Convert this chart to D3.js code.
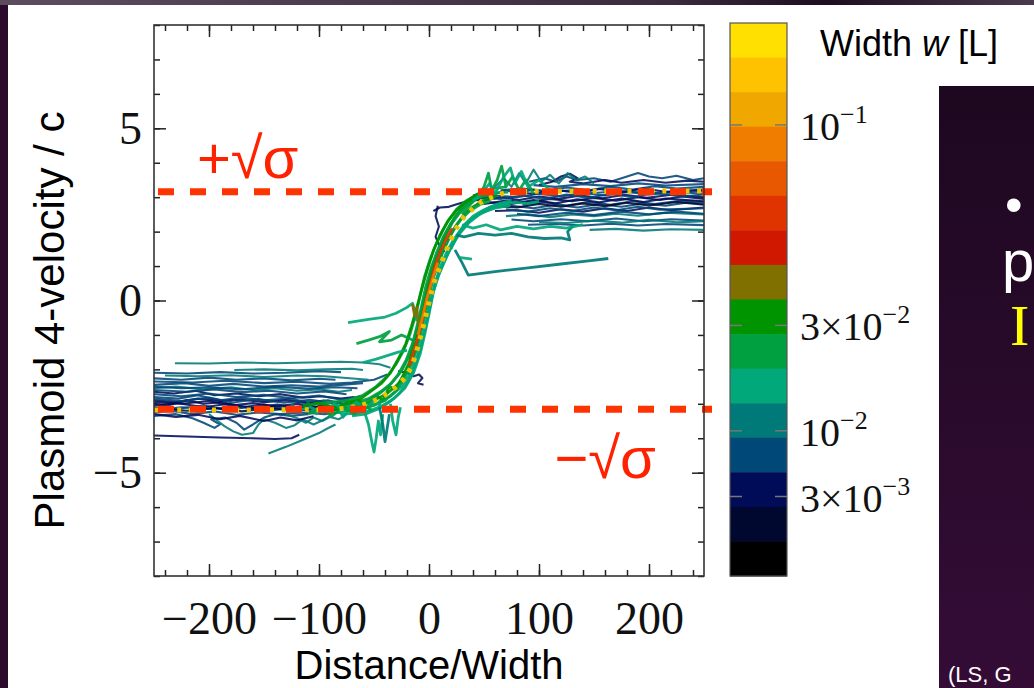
<!DOCTYPE html>
<html><head><meta charset="utf-8">
<script src="https://cdn.jsdelivr.net/npm/d3@7"></script>
<style>body{margin:0;background:#fff;overflow:hidden}</style>
</head><body>
<svg id="chart" width="1034" height="688"></svg>
<script>
// ---------------- DATA ----------------
const xDomain = [-250, 250];
const yDomain = [-8, 8];
const xMajorTicks = [-200, -100, 0, 100, 200];
const yMajorTicks = [-5, 0, 5];
const sqrtSigma = 3.16;

// colour bins of the width colour bar, top (largest w) to bottom
const widthBinColors = ["#FFE000","#FFC200","#F0A800","#F07C00","#E85800","#E03400","#D01800","#807000",
  "#009400","#00A040","#00A87A","#007A78","#004878","#000C58","#000830","#000000"];
const colorbarTickBins = [2.95, 8.75, 11.8, 13.7];
const colorbarTickBase = ["10", "3×10", "10", "3×10"];
const colorbarTickExp = ["−1", "−2", "−2", "−3"];

// plasmoid tracks: w = colour-bin index, pts = [distance/width, 4-velocity]
const leftPlateauTracks = [
 {w:13, pts:[[-250,-2.95],[-225,-3.0],[-200,-2.92],[-180,-3.05],[-160,-2.98],[-140,-3.08],[-120,-3.0],[-100,-3.1],[-85,-3.05],[-70,-3.15]]},
 {w:12, pts:[[-250,-3.1],[-230,-3.15],[-205,-3.05],[-185,-3.18],[-165,-3.1],[-145,-3.2],[-125,-3.12],[-105,-3.22],[-90,-3.15],[-75,-3.2]]},
 {w:12, pts:[[-250,-2.8],[-228,-2.85],[-210,-2.75],[-190,-2.9],[-170,-2.82],[-150,-2.9],[-128,-2.85],[-110,-2.95],[-92,-2.9],[-78,-3.0],[-65,-2.9]]},
 {w:13, pts:[[-250,-2.65],[-232,-2.7],[-212,-2.62],[-195,-2.75],[-175,-2.7],[-155,-2.78],[-135,-2.72],[-115,-2.82],[-98,-2.78],[-80,-2.85],[-68,-2.8]]},
 {w:12, pts:[[-250,-3.25],[-235,-3.2],[-215,-3.3],[-195,-3.22],[-175,-3.32],[-155,-3.25],[-135,-3.3],[-115,-3.25],[-95,-3.3],[-80,-3.25]]},
 {w:11, pts:[[-250,-2.55],[-230,-2.5],[-205,-2.58],[-180,-2.52],[-160,-2.6],[-140,-2.55],[-120,-2.62],[-100,-2.58],[-82,-2.65],[-70,-2.6]]},
 {w:12, pts:[[-250,-2.45],[-222,-2.4],[-200,-2.48],[-178,-2.42],[-150,-2.5],[-125,-2.46],[-100,-2.5],[-80,-2.45],[-60,-2.4]]},
 {w:13, pts:[[-250,-3.0],[-238,-3.05],[-220,-2.9],[-205,-3.0],[-188,-2.95],[-170,-3.1],[-150,-3.02],[-130,-3.12],[-110,-3.05],[-95,-3.15]]},
 {w:12, pts:[[-250,-3.35],[-230,-3.3],[-215,-3.42],[-205,-3.55],[-195,-3.7],[-190,-3.6],[-198,-3.45],[-185,-3.4],[-175,-3.55],[-168,-3.75],[-160,-3.6],[-150,-3.4],[-140,-3.3],[-125,-3.35],[-110,-3.3]]},
 {w:11, pts:[[-200,-3.3],[-192,-3.5],[-186,-3.65],[-178,-3.8],[-170,-3.9],[-160,-3.85],[-155,-3.6],[-150,-3.45],[-140,-3.55],[-130,-3.7],[-122,-3.62],[-115,-3.45],[-105,-3.6],[-98,-3.5],[-90,-3.35]]},
 {w:13, pts:[[-250,-3.92],[-220,-3.95],[-190,-3.98],[-160,-4.0],[-140,-4.02],[-125,-4.0],[-118,-3.9]]},
 {w:11, pts:[[-146,-4.44],[-130,-4.25],[-115,-4.05],[-100,-3.85],[-92,-3.71],[-85,-3.6]]},
 {w:11, pts:[[-231,-1.82],[-200,-1.83],[-170,-1.8],[-140,-1.82],[-110,-1.8],[-80,-1.78],[-60,-1.8],[-45,-1.85],[-35,-1.95]]},
 {w:12, pts:[[-250,-2.1],[-220,-2.12],[-190,-2.08],[-160,-2.12],[-130,-2.1],[-100,-2.05],[-80,-2.08]]},
 {w:11, pts:[[-177,-2.02],[-150,-2.0],[-120,-2.03],[-95,-2.0],[-70,-1.98],[-60,-2.02]]},
 {w:12, pts:[[-250,-2.26],[-225,-2.3],[-200,-2.24],[-175,-2.3],[-150,-2.26],[-125,-2.32],[-100,-2.27],[-85,-2.3]]},
 {w:12, pts:[[-250,-2.35],[-215,-2.38],[-185,-2.33],[-150,-2.4],[-120,-2.36],[-90,-2.42],[-70,-2.38],[-50,-2.3],[-38,-2.15]]},
 {w:13, pts:[[-250,-2.9],[-230,-2.95],[-210,-2.85],[-190,-2.92],[-170,-2.88],[-150,-2.95],[-130,-2.9],[-110,-2.98],[-95,-2.95]]},
 {w:12, pts:[[-250,-3.18],[-225,-3.1],[-200,-3.15],[-175,-3.08],[-150,-3.15],[-125,-3.08],[-100,-3.15],[-85,-3.1]]},
 {w:11, pts:[[-130,-3.3],[-120,-3.42],[-112,-3.55],[-105,-3.4],[-97,-3.5],[-90,-3.38],[-82,-3.45],[-75,-3.3]]},
 {w:10, pts:[[-110,-3.1],[-102,-3.3],[-96,-3.05],[-90,-3.35],[-84,-3.1],[-78,-3.4],[-72,-3.15],[-66,-3.3],[-60,-3.05]]},
 {w:11, pts:[[-125,-3.0],[-118,-3.25],[-110,-2.95],[-104,-3.2],[-96,-2.9],[-90,-3.15],[-82,-2.95],[-75,-3.2],[-68,-3.0]]},
 {w:13, pts:[[-28,-2.05],[-20,-2.1],[-14,-2.2],[-9,-2.15],[-6,-2.25],[-10,-2.4],[-5,-2.45]]},
 {w:12, pts:[[-250,-2.72],[-225,-2.78],[-200,-2.7],[-175,-2.8],[-150,-2.74],[-125,-2.84],[-100,-2.76],[-80,-2.88],[-62,-2.78]]},
 {w:13, pts:[[-250,-3.05],[-228,-2.98],[-205,-3.1],[-182,-3.0],[-160,-3.12],[-138,-3.02],[-115,-3.14],[-95,-3.05],[-78,-3.12]]},
 {w:12, pts:[[-250,-2.85],[-225,-2.92],[-200,-2.82],[-178,-2.96],[-155,-2.86],[-132,-2.97],[-108,-2.88],[-88,-2.98],[-72,-2.9]]},
 {w:14, pts:[[-250,-3.12],[-220,-3.2],[-195,-3.12],[-170,-3.22],[-145,-3.12],[-120,-3.2],[-100,-3.1],[-82,-3.18]]},
 {w:12, pts:[[-250,-2.6],[-220,-2.65],[-195,-2.58],[-170,-2.66],[-145,-2.62],[-120,-2.7],[-95,-2.64],[-75,-2.72]]},
 {w:11, pts:[[-240,-2.18],[-210,-2.2],[-180,-2.17],[-150,-2.22],[-120,-2.18],[-95,-2.2],[-75,-2.25],[-55,-2.3]]},
 {w:13, pts:[[-250,-3.3],[-230,-3.38],[-210,-3.32],[-190,-3.45],[-172,-3.35],[-150,-3.5],[-135,-3.4],[-120,-3.48],[-105,-3.36]]},
 {w:12, pts:[[-250,-2.5],[-225,-2.55],[-200,-2.52],[-170,-2.58],[-140,-2.5],[-110,-2.56],[-85,-2.52],[-65,-2.55]]}
];

const rightPlateauTracks = [
 {w:12, pts:[[45,2.95],[60,3.05],[80,3.0],[100,3.1],[120,3.02],[140,3.12],[160,3.05],[180,3.15],[200,3.08],[225,3.15],[250,3.1]]},
 {w:13, pts:[[50,2.8],[70,2.9],[90,2.85],[110,2.95],[130,2.88],[150,2.98],[170,2.9],[190,3.0],[210,2.92],[230,3.02],[250,2.95]]},
 {w:12, pts:[[55,2.7],[75,2.75],[95,2.68],[115,2.78],[135,2.7],[155,2.8],[175,2.72],[195,2.82],[215,2.75],[235,2.85],[250,2.8]]},
 {w:13, pts:[[60,2.6],[80,2.62],[100,2.55],[120,2.65],[140,2.58],[160,2.68],[180,2.6],[200,2.7],[220,2.62],[250,2.7]]},
 {w:12, pts:[[65,3.2],[85,3.25],[105,3.18],[125,3.28],[145,3.2],[165,3.3],[185,3.22],[205,3.32],[225,3.25],[250,3.3]]},
 {w:11, pts:[[70,2.45],[90,2.5],[110,2.42],[130,2.5],[150,2.45],[170,2.52],[190,2.46],[215,2.55],[250,2.5]]},
 {w:12, pts:[[75,2.35],[95,2.3],[120,2.36],[145,2.3],[170,2.38],[195,2.3],[220,2.36],[250,2.32]]},
 {w:11, pts:[[146,2.05],[170,2.08],[195,2.03],[220,2.07],[250,2.05]]},
 {w:12, pts:[[90,2.2],[115,2.22],[140,2.18],[165,2.23],[190,2.18],[215,2.22],[250,2.19]]},
 {w:12, pts:[[91,3.45],[105,3.55],[115,3.45],[125,3.6],[135,3.5],[150,3.55],[165,3.45],[180,3.6],[190,3.7],[200,3.6],[212,3.55],[225,3.62],[240,3.5],[250,3.55]]},
 {w:13, pts:[[100,3.35],[112,3.45],[120,3.6],[128,3.68],[135,3.55],[128,3.45],[140,3.4],[160,3.5],[175,3.42],[195,3.5],[215,3.42],[235,3.48],[250,3.45]]},
 {w:12, pts:[[40,3.05],[50,3.15],[60,3.1],[70,3.2],[80,3.12],[95,3.22],[110,3.15],[130,3.2],[150,3.12],[175,3.18],[200,3.12],[250,3.18]]},
 {w:13, pts:[[50,2.9],[65,3.0],[82,2.92],[100,3.02],[118,2.95],[138,3.05],[158,2.97],[178,3.07],[198,2.98],[222,3.08],[250,3.0]]},
 {w:12, pts:[[85,2.78],[105,2.85],[125,2.76],[145,2.86],[165,2.78],[185,2.88],[205,2.8],[230,2.9],[250,2.85]]},
 {w:11, pts:[[60,3.3],[68,3.55],[75,3.3],[82,3.7],[88,3.4],[95,3.8],[102,3.45],[110,3.65],[118,3.4],[126,3.7],[134,3.5],[142,3.6],[150,3.4]]},
 {w:13, pts:[[8,2.75],[6,2.45],[9,2.15],[6,1.85],[10,1.55],[14,1.4]]},
 {w:13, pts:[[4,2.6],[10,2.7],[18,2.72],[26,2.8],[36,2.9],[46,2.92]]},
 {w:12, pts:[[45,3.0],[65,2.95],[85,3.05],[105,2.95],[125,3.08],[145,2.98],[165,3.1],[185,3.0],[205,3.12],[230,3.02],[250,3.08]]},
 {w:13, pts:[[55,2.85],[75,2.8],[95,2.92],[115,2.82],[135,2.94],[155,2.85],[175,2.96],[195,2.86],[215,2.96],[250,2.88]]},
 {w:14, pts:[[60,2.75],[80,2.7],[100,2.8],[120,2.72],[140,2.82],[160,2.74],[180,2.84],[200,2.76],[225,2.86],[250,2.78]]},
 {w:12, pts:[[70,2.65],[90,2.58],[110,2.68],[130,2.6],[150,2.7],[170,2.62],[190,2.72],[210,2.64],[250,2.68]]},
 {w:13, pts:[[75,3.15],[95,3.1],[115,3.22],[135,3.12],[155,3.24],[175,3.14],[195,3.25],[215,3.16],[250,3.22]]},
 {w:12, pts:[[80,2.52],[100,2.45],[125,2.55],[150,2.48],[175,2.58],[200,2.5],[225,2.58],[250,2.52]]},
 {w:11, pts:[[100,2.28],[125,2.25],[150,2.32],[175,2.26],[200,2.34],[225,2.27],[250,2.3]]},
 {w:12, pts:[[95,3.35],[115,3.3],[140,3.38],[165,3.32],[190,3.4],[215,3.34],[250,3.38]]}
];

const transitionTracks = [
 {w:9,  pts:[[-95,-3.1],[-80,-3.05],[-68,-2.98],[-55,-2.85],[-44,-2.65],[-34,-2.4],[-25,-2.05],[-18,-1.6],[-13,-1.1],[-9,-0.6],[-5,-0.05],[0,0.6],[5,1.05],[10,1.5],[15,1.9],[21,2.25],[28,2.55],[36,2.8],[46,3.0],[58,3.12],[72,3.15]]},
 {w:8,  pts:[[-90,-3.2],[-75,-3.15],[-62,-3.05],[-50,-2.9],[-38,-2.7],[-28,-2.42],[-20,-2.05],[-14,-1.6],[-10,-1.15],[-6,-0.6],[-2,0.0],[3,0.6],[8,1.0],[13,1.45],[19,1.85],[25,2.2],[32,2.5],[40,2.72],[50,2.92],[62,3.05]]},
 {w:10, pts:[[-85,-3.25],[-70,-3.2],[-58,-3.1],[-46,-2.95],[-35,-2.78],[-25,-2.5],[-17,-2.12],[-11,-1.65],[-6,-1.1],[-2,-0.55],[2,0.05],[7,0.6],[12,1.0],[18,1.42],[24,1.78],[31,2.1],[40,2.4],[50,2.62],[62,2.8],[75,2.9]]},
 {w:9,  pts:[[-105,-3.0],[-88,-2.95],[-74,-2.9],[-60,-2.75],[-48,-2.5],[-38,-2.2],[-30,-1.85],[-23,-1.45],[-17,-0.95],[-12,-0.4],[-8,0.15],[-4,0.7],[1,1.2],[6,1.6],[12,2.0],[18,2.35],[25,2.65],[34,2.9],[45,3.1],[58,3.25],[70,3.3]]},
 {w:10, pts:[[-80,-3.3],[-66,-3.28],[-54,-3.2],[-42,-3.05],[-32,-2.85],[-22,-2.55],[-14,-2.1],[-8,-1.55],[-4,-1.0],[0,-0.4],[4,0.25],[9,0.75],[15,1.2],[21,1.6],[28,1.95],[36,2.25],[46,2.5],[58,2.7],[72,2.82]]},
 {w:8,  pts:[[-75,-3.0],[-64,-2.9],[-56,-3.1],[-48,-2.75],[-42,-2.9],[-36,-2.5],[-30,-2.6],[-24,-2.2],[-18,-1.8],[-14,-1.3],[-10,-0.85],[-6,-0.3],[-2,0.3],[2,0.85],[7,1.3],[12,1.7],[17,2.05],[23,2.4],[30,2.7],[38,2.95],[48,3.15]]},
 {w:9,  pts:[[-60,-3.15],[-50,-3.05],[-40,-2.9],[-31,-2.65],[-23,-2.3],[-16,-1.85],[-11,-1.4],[-7,-0.9],[-3,-0.35],[1,0.25],[5,0.8],[10,1.25],[16,1.7],[22,2.05],[29,2.35],[37,2.6],[46,2.78],[56,2.9]]},
 {w:9,  pts:[[-100,-3.2],[-85,-3.1],[-70,-3.05],[-58,-2.95],[-47,-2.75],[-37,-2.5],[-28,-2.15],[-21,-1.75],[-15,-1.25],[-11,-0.75],[-7,-0.2],[-3,0.4],[2,0.95],[7,1.4],[13,1.85],[20,2.25],[27,2.55],[35,2.8],[45,3.0],[56,3.1]]},
 {w:10, pts:[[-70,-3.35],[-58,-3.3],[-46,-3.15],[-36,-2.95],[-27,-2.7],[-19,-2.35],[-12,-1.85],[-7,-1.3],[-3,-0.75],[1,-0.15],[5,0.45],[10,0.95],[16,1.4],[23,1.8],[30,2.1],[38,2.35],[48,2.55],[60,2.68],[74,2.76]]},
 {w:8,  pts:[[-115,-3.05],[-100,-2.98],[-85,-3.1],[-72,-2.95],[-62,-2.85],[-52,-2.62],[-43,-2.4],[-35,-2.1],[-28,-1.7],[-21,-1.25],[-16,-0.75],[-11,-0.2],[-6,0.4],[-1,0.95],[4,1.45],[10,1.9],[17,2.3],[25,2.62],[33,2.85],[42,3.05],[52,3.2]]},
 {w:10, pts:[[-120,-3.2],[-108,-3.1],[-96,-3.25],[-86,-3.0],[-76,-3.2],[-66,-2.95],[-58,-3.15],[-50,-2.9],[-44,-3.05]]},
 {w:9,  pts:[[-110,-3.3],[-98,-3.15],[-88,-3.35],[-78,-3.1],[-68,-3.3],[-60,-3.0],[-52,-3.2]]},
 {w:10, pts:[[20,1.5],[26,1.9],[32,2.2],[40,2.45],[48,2.6],[56,2.72],[66,2.8],[78,2.85],[90,2.82],[100,2.88]]},
 {w:9,  pts:[[30,2.5],[38,2.8],[44,3.0],[50,3.3],[54,3.7],[57,3.2],[62,3.5],[66,3.9],[70,3.3],[76,3.6],[82,3.2],[88,3.5],[95,3.1]]},
 {w:10, pts:[[40,2.9],[48,3.1],[55,3.4],[60,3.1],[68,3.6],[74,3.85],[78,3.4],[84,3.75],[90,3.3],[100,3.5],[110,3.2]]},
 {w:11, pts:[[25,1.9],[32,1.85],[45,1.95],[60,1.9],[75,1.95],[90,1.85],[105,1.8],[120,1.82],[128,1.76],[126,2.0],[132,2.2]]},
 {w:10, pts:[[30,2.2],[40,2.1],[52,2.2],[65,2.05],[80,2.15],[95,2.08],[110,2.15],[125,2.1],[140,2.2]]},
 {w:11, pts:[[23.6,1.47],[30,1.1],[35.7,0.74],[60,0.84],[90,0.95],[120,1.06],[145,1.15],[163,1.22]]},
 {w:10, pts:[[27,1.25],[34,1.22],[39,1.2]]},
 {w:10, pts:[[-60,-3.1],[-55,-3.6],[-52,-4.1],[-50,-4.4],[-48,-4.0],[-46,-3.5],[-44,-3.9],[-42,-3.3]]},
 {w:11, pts:[[-45,-3.1],[-42,-3.6],[-40,-4.1],[-38,-3.7],[-36,-3.3]]},
 {w:10, pts:[[-35,-3.0],[-33,-3.5],[-30,-3.9],[-28,-3.4],[-26,-3.1]]},
 {w:10, pts:[[-73.6,-0.64],[-55,-0.55],[-40,-0.48],[-30,-0.37],[-20,-0.2],[-15,-0.08],[-13,-0.3],[-11,-0.6]]},
 {w:9,  pts:[[-66,-1.25],[-55,-1.15],[-45,-1.05],[-36,-0.9],[-45,-1.2],[-34,-1.15],[-25,-1.0],[-18,-1.1],[-12,-1.2]]},
 {w:10, pts:[[-60,-1.8],[-48,-1.7],[-38,-1.6],[-28,-1.5],[-20,-1.45]]},
 {w:7,  pts:[[-15,-0.1],[-13,-0.45],[-11,-0.2],[-10,-0.6],[-8,-0.8]]},
 {w:5,  pts:[[-18,-1.9],[-12,-1.3],[-7,-0.7],[-3,-0.1],[1,0.45],[5,0.95],[10,1.4],[15,1.75],[21,2.1]]},
 {w:3,  pts:[[-10,-1.0],[-6,-0.5],[-2,0.05],[3,0.6],[8,1.1]]}
];

// smooth yellow reference curve (dotted)
const referenceCurve = [[-250,-3.18],[-100,-3.17],[-80,-3.14],[-65,-3.07],[-52,-2.94],[-40,-2.74],[-28,-2.45],[-19,-2.1],
 [-12.7,-1.63],[-8,-1.09],[-4,-0.6],[0,-0.05],[5.5,0.6],[10,0.98],[16,1.47],[20.6,1.81],[25,2.1],[31,2.39],[38.8,2.63],
 [47.9,2.87],[58.2,3.01],[69,3.12],[80,3.16],[100,3.17],[250,3.18]];

// ---------------- DRAW ----------------
const svg = d3.select("#chart");
const W = 1034, H = 688;
const x = d3.scaleLinear(xDomain, [154, 704]);
const y = d3.scaleLinear(yDomain, [576, 25]);
const cb = d3.scaleLinear([0, widthBinColors.length], [23, 576]);

const defs = svg.append("defs");
const g1 = defs.append("linearGradient").attr("id","boxg").attr("x1",0).attr("y1",0).attr("x2",0).attr("y2",1);
g1.append("stop").attr("offset","0%").attr("stop-color","#1d0820");
g1.append("stop").attr("offset","100%").attr("stop-color","#340c36");
const g2 = defs.append("linearGradient").attr("id","topg").attr("x1",0).attr("y1",0).attr("x2",1).attr("y2",0);
g2.append("stop").attr("offset","0%").attr("stop-color","#5c4c5e");
g2.append("stop").attr("offset","65%").attr("stop-color","#3a2a3c");
g2.append("stop").attr("offset","80%").attr("stop-color","#1e0c20");
g2.append("stop").attr("offset","100%").attr("stop-color","#4a3a4c");
defs.append("clipPath").attr("id","plotclip").append("rect")
  .attr("x", x(xDomain[0])).attr("y", y(yDomain[1])).attr("width", x(xDomain[1]) - x(xDomain[0])).attr("height", y(yDomain[0]) - y(yDomain[1]));
defs.append("filter").attr("id","soft").append("feGaussianBlur").attr("stdDeviation",0.45);

// slide background
svg.append("rect").attr("width",W).attr("height",H).attr("fill","#fff");
svg.append("rect").attr("x",0).attr("y",0).attr("width",8).attr("height",H).attr("fill","#2b0a2c");
svg.append("rect").attr("x",0).attr("y",0).attr("width",W).attr("height",5).attr("fill","url(#topg)");

// tracks
const line = d3.line().x(d => x(d[0])).y(d => y(d[1]));
const plot = svg.append("g").attr("clip-path","url(#plotclip)");
const trackLayer = plot.append("g").attr("filter","url(#soft)");
function drawTracks(tracks, sw, op) {
  trackLayer.append("g").selectAll("path").data(tracks).join("path")
    .attr("d", d => line(d.pts))
    .attr("fill","none")
    .attr("stroke", d => widthBinColors[d.w])
    .attr("stroke-width", sw)
    .attr("stroke-opacity", op)
    .attr("stroke-linejoin","round");
}
drawTracks(leftPlateauTracks, 2.1, 0.88);
drawTracks(rightPlateauTracks, 2.1, 0.88);
drawTracks(transitionTracks, 2.8, 0.92);

// yellow dotted reference curve
plot.append("path").attr("d", d3.line().x(d => x(d[0])).y(d => y(d[1])).curve(d3.curveMonotoneX)(referenceCurve))
  .attr("fill","none").attr("stroke","#F2C200").attr("stroke-width",5).attr("stroke-dasharray","4 7.6");

// red dashed ±sqrt(sigma)
[sqrtSigma, -sqrtSigma].forEach(v => {
  svg.append("line").attr("x1", x(xDomain[0]) + 4).attr("x2", x(xDomain[1]) + 8)
    .attr("y1", y(v)).attr("y2", y(v))
    .attr("stroke","#FF3300").attr("stroke-width",7).attr("stroke-dasharray","16 16");
});

// axes (ticks inward on all sides)
const fontTick = "'Liberation Serif','DejaVu Serif',serif";
function styleAxis(g) {
  g.select(".domain").remove();
  g.selectAll(".tick line").attr("stroke","#222").attr("stroke-width",1.5);
  g.selectAll(".tick text").attr("fill","#111").style("font-family", fontTick).style("font-size","46px");
}
const axBottom = svg.append("g").attr("transform",`translate(0,${y(yDomain[0])})`);
axBottom.append("g").call(d3.axisBottom(x).tickValues(x.ticks(25)).tickSize(-6).tickFormat("")).call(styleAxis);
axBottom.append("g").call(d3.axisBottom(x).tickValues(xMajorTicks).tickSize(-12).tickPadding(25)).call(styleAxis);
const axTop = svg.append("g").attr("transform",`translate(0,${y(yDomain[1])})`);
axTop.append("g").call(d3.axisTop(x).tickValues(x.ticks(25)).tickSize(-6).tickFormat("")).call(styleAxis);
axTop.append("g").call(d3.axisTop(x).tickValues(xMajorTicks).tickSize(-12).tickFormat("")).call(styleAxis);
const axLeft = svg.append("g").attr("transform",`translate(${x(xDomain[0])},0)`);
axLeft.append("g").call(d3.axisLeft(y).tickValues(y.ticks(16)).tickSize(-6).tickFormat("")).call(styleAxis);
axLeft.append("g").call(d3.axisLeft(y).tickValues(yMajorTicks).tickSize(-12).tickPadding(12)).call(styleAxis);
const axRight = svg.append("g").attr("transform",`translate(${x(xDomain[1])},0)`);
axRight.append("g").call(d3.axisRight(y).tickValues(y.ticks(16)).tickSize(-6).tickFormat("")).call(styleAxis);
axRight.append("g").call(d3.axisRight(y).tickValues(yMajorTicks).tickSize(-12).tickFormat("")).call(styleAxis);

svg.append("rect").attr("x", x(xDomain[0])).attr("y", y(yDomain[1]))
  .attr("width", x(xDomain[1]) - x(xDomain[0])).attr("height", y(yDomain[0]) - y(yDomain[1]))
  .attr("fill","none").attr("stroke","#333").attr("stroke-width",1.6);

// axis titles
const fontSans = "'Liberation Sans',Arial,sans-serif";
svg.append("text").attr("x", x(0)).attr("y", 679).attr("text-anchor","middle")
  .style("font-family", fontSans).style("font-size","40px").attr("fill","#000").text("Distance/Width");
svg.append("text").attr("transform", `translate(64,${y(0) + 20}) rotate(-90)`).attr("text-anchor","middle")
  .style("font-family", fontSans).style("font-size","42px").attr("fill","#000").text("Plasmoid 4-velocity / c");

// ±sqrt(sigma) labels
svg.append("text").attr("x", x(-211)).attr("y", y(3.56)).style("font-family", fontSans).style("font-size","58px")
  .attr("fill","#FF2200").text("+√σ");
svg.append("text").attr("x", x(114)).attr("y", y(-5.15)).style("font-family", fontSans).style("font-size","58px")
  .attr("fill","#FF2200").text("−√σ");

// colour bar
const cbX = 730, cbW = 57;
svg.append("g").selectAll("rect").data(widthBinColors).join("rect")
  .attr("x", cbX).attr("y", (d, i) => cb(i)).attr("width", cbW).attr("height", (d, i) => cb(i + 1) - cb(i) + 0.5)
  .attr("fill", d => d);
svg.append("rect").attr("x", cbX).attr("y", cb(0)).attr("width", cbW).attr("height", cb(widthBinColors.length) - cb(0))
  .attr("fill","none").attr("stroke","#555").attr("stroke-width",1.2);
const cbt = svg.append("g").selectAll("g").data(colorbarTickBins).join("g");
cbt.append("line").attr("x1", cbX).attr("x2", cbX + 12).attr("y1", d => cb(d)).attr("y2", d => cb(d)).attr("stroke","#777").attr("stroke-width",1.5);
cbt.append("line").attr("x1", cbX + cbW - 12).attr("x2", cbX + cbW).attr("y1", d => cb(d)).attr("y2", d => cb(d)).attr("stroke","#777").attr("stroke-width",1.5);
const lab = cbt.append("text").attr("x", 800).attr("y", d => cb(d) + 15)
  .style("font-family", fontTick).style("font-size","40px").attr("fill","#111");
lab.append("tspan").text((d, i) => colorbarTickBase[i]);
lab.append("tspan").attr("dy", -17).style("font-size","26px").text((d, i) => colorbarTickExp[i]);

const wt = svg.append("text").attr("x", 820).attr("y", 56).style("font-family", fontSans).style("font-size","36px").attr("fill","#000");
wt.append("tspan").text("Width ");
wt.append("tspan").style("font-style","italic").text("w");
wt.append("tspan").text(" [L]");

// slide panel on the right
svg.append("rect").attr("x", 939).attr("y", 86).attr("width", W - 939).attr("height", H - 86).attr("fill","url(#boxg)");
svg.append("text").attr("x", 1005).attr("y", 222).style("font-family", fontSans).style("font-size","50px").attr("fill","#fff").text("•");
svg.append("text").attr("x", 1002).attr("y", 281).style("font-family", fontSans).style("font-size","58px").attr("fill","#fff").text("p");
svg.append("text").attr("x", 1010).attr("y", 345).style("font-family", fontTick).style("font-size","58px").attr("fill","#FFFF00").text("I");
svg.append("text").attr("x", 948).attr("y", 682).style("font-family", fontSans).style("font-size","22px").attr("fill","#fff").text("(LS, G");
</script>
</body></html>
